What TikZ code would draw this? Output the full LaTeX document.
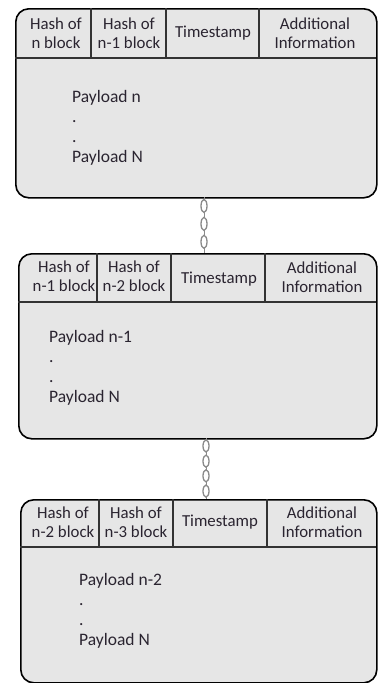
\documentclass[tikz,border=0pt]{standalone}
\usepackage{fontspec}
\setmainfont{Carlito}
\usetikzlibrary{calc}
\definecolor{blockfill}{HTML}{E6E6E6}
\definecolor{txt}{HTML}{2A2430}
\definecolor{chaincol}{HTML}{8A8A8A}
\tikzset{
  blockbox/.style={draw=black, line width=1.6pt, rounded corners=13pt, fill=blockfill, inner sep=0pt, anchor=north west},
  sepline/.style={draw=black!80, line width=1.1pt},
  coltext/.style={font=\fontsize{16.8}{19}\selectfont, text=txt, align=center, inner sep=0pt},
  paytext/.style={font=\fontsize{17.5}{20}\selectfont, text=txt, align=left, inner sep=0pt, anchor=north west},
  link/.style={draw=chaincol, line width=1.3pt}
}
\begin{document}
\begin{tikzpicture}[x=1pt,y=-1pt]
\useasboundingbox (0,0) rectangle (378,683);
% ---------- block 1
\node[blockbox, minimum width=361pt, minimum height=189pt] (b1) at (15,8) {};
\draw[sepline] (15,58) -- (376,58);
\draw[sepline] (91,8) -- (91,58);
\draw[sepline] (166,8) -- (166,58);
\draw[sepline] (259,8) -- (259,58);
\node[coltext] (h11) at (56,33) {Hash of\\n block};
\node[coltext] (h12) at (129,33) {Hash of\\n-1 block};
\node[coltext] (h13) at (213,33) {Timestamp};
\node[coltext] (h14) at (315,33) {Additional\\Information};
\node[paytext] (p1) at (72,90) {Payload n\\.\\.\\Payload N};
% ---------- block 2
\node[blockbox, minimum width=358pt, minimum height=185pt] (b2) at (18,253) {};
\draw[sepline] (18,302) -- (376,302);
\draw[sepline] (97,253) -- (97,302);
\draw[sepline] (171,253) -- (171,302);
\draw[sepline] (265,253) -- (265,302);
\node[coltext] (h21) at (64,276) {Hash of\\n-1 block};
\node[coltext] (h22) at (134,276) {Hash of\\n-2 block};
\node[coltext] (h23) at (219,279) {Timestamp};
\node[coltext] (h24) at (322,277) {Additional\\Information};
\node[paytext] (p2) at (49,330) {Payload n-1\\.\\.\\Payload N};
% ---------- block 3
\node[blockbox, minimum width=356pt, minimum height=183pt] (b3) at (20,499) {};
\draw[sepline] (20,547) -- (376,547);
\draw[sepline] (99,499) -- (99,547);
\draw[sepline] (173,499) -- (173,547);
\draw[sepline] (267,499) -- (267,547);
\node[coltext] (h31) at (63,522) {Hash of\\n-2 block};
\node[coltext] (h32) at (136,522) {Hash of\\n-3 block};
\node[coltext] (h33) at (220,522) {Timestamp};
\node[coltext] (h34) at (322,522) {Additional\\Information};
\node[paytext] (p3) at (79,573) {Payload n-2\\.\\.\\Payload N};
% ---------- chains
\coordinate (c1a) at (204,197);
\coordinate (c1b) at (204,253);
\coordinate (c2a) at (206,438);
\coordinate (c2b) at (206,499);
\draw[draw=chaincol, line width=0.9pt] (c1a) -- (c1b);
\draw[draw=chaincol, line width=0.9pt] (c2a) -- (c2b);
\foreach \i in {0.16,0.48,0.80}{
  \draw[link, fill=white] ($(c1a)!\i!(c1b)$) ellipse [x radius=3pt, y radius=6.5pt];
}
\foreach \i in {0.13,0.38,0.62,0.87}{
  \draw[link, fill=white] ($(c2a)!\i!(c2b)$) ellipse [x radius=3pt, y radius=6pt];
}
\end{tikzpicture}
\end{document}
